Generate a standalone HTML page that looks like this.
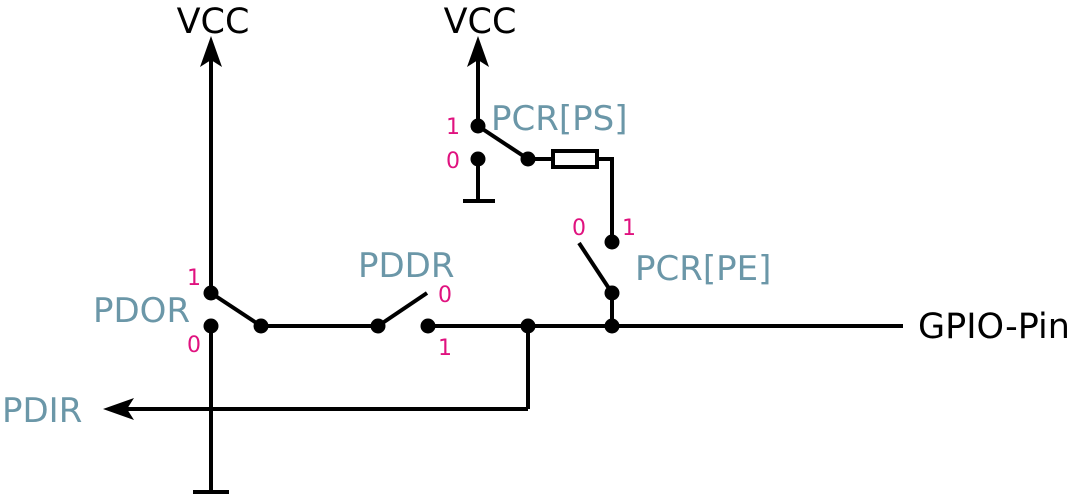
<!DOCTYPE html>
<html><head><style>body{margin:0;background:#fff}</style></head><body>
<svg width="1071" height="499" xmlns="http://www.w3.org/2000/svg" font-family="DejaVu Sans, Liberation Sans, sans-serif">
<g stroke="#000" stroke-width="4" fill="none">
<line x1="211" y1="60" x2="211" y2="293"/>
<line x1="211" y1="326" x2="211" y2="492"/>
<line x1="193" y1="492" x2="229" y2="492"/>
<line x1="211" y1="293" x2="261" y2="326"/>
<line x1="261" y1="326" x2="378" y2="326"/>
<line x1="378" y1="326" x2="427" y2="293"/>
<line x1="428" y1="326" x2="903" y2="326"/>
<line x1="528" y1="326" x2="528" y2="409"/>
<line x1="528" y1="409" x2="125" y2="409"/>
<line x1="478" y1="60" x2="478" y2="126"/>
<line x1="478" y1="159" x2="478" y2="201"/>
<line x1="463" y1="201" x2="495" y2="201"/>
<line x1="478" y1="126" x2="528" y2="159"/>
<line x1="528" y1="159" x2="553" y2="159"/>
<rect x="553" y="151" width="44" height="16"/>
<polyline points="597,159 612,159 612,242"/>
<line x1="612" y1="293" x2="579" y2="243"/>
<line x1="612" y1="293" x2="612" y2="326"/>
</g>
<g fill="#000">
<polygon points="211,36 222,67 211,60 200,67"/>
<polygon points="478,36 489,67 478,60 467,67"/>
<polygon points="103,409 134,398 127,409 134,420"/>
<circle cx="211" cy="293" r="7.5"/><circle cx="211" cy="326" r="7.5"/>
<circle cx="261" cy="326" r="7.5"/><circle cx="378" cy="326" r="7.5"/>
<circle cx="428" cy="326" r="7.5"/><circle cx="528" cy="326" r="7.5"/>
<circle cx="612" cy="326" r="7.5"/><circle cx="612" cy="293" r="7.5"/>
<circle cx="612" cy="242" r="7.5"/><circle cx="478" cy="126" r="7.5"/>
<circle cx="478" cy="159" r="7.5"/><circle cx="528" cy="159" r="7.5"/>
</g>
<g font-size="35" fill="#000">
<text x="213" y="33" text-anchor="middle">VCC</text>
<text x="480" y="33" text-anchor="middle">VCC</text>
<text x="918" y="338">GPIO-Pin</text>
</g>
<g font-size="34" fill="#6b97a8">
<text x="93" y="322">PDOR</text>
<text x="2" y="422">PDIR</text>
<text x="358" y="277">PDDR</text>
<text x="491" y="130">PCR[PS]</text>
<text x="635" y="280">PCR[PE]</text>
</g>
<g font-size="22" fill="#e0127f">
<text x="187" y="285">1</text>
<text x="187" y="352">0</text>
<text x="438" y="302">0</text>
<text x="438" y="355">1</text>
<text x="446" y="134">1</text>
<text x="446" y="168">0</text>
<text x="572" y="235">0</text>
<text x="622" y="235">1</text>
</g>
</svg>
</body></html>
